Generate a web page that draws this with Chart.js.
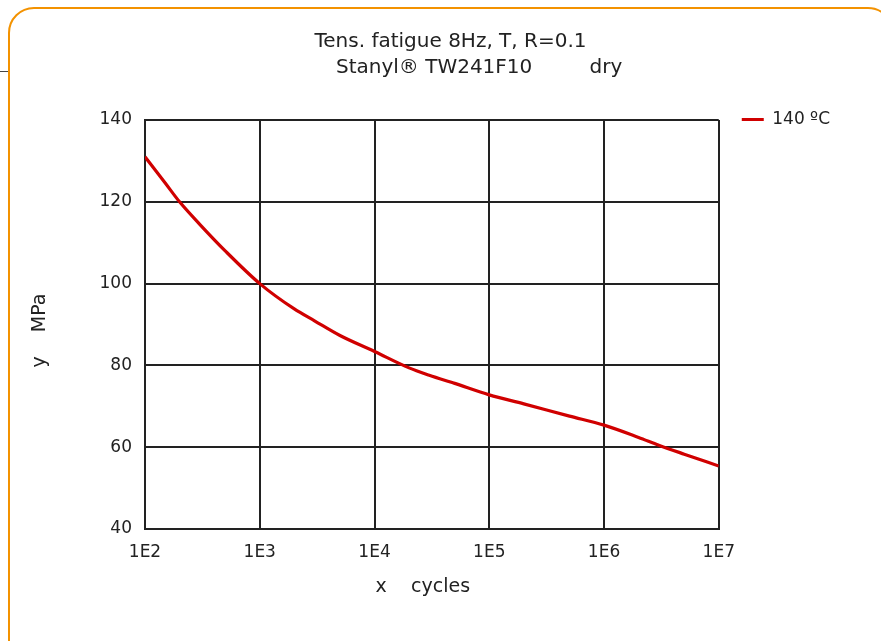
<!DOCTYPE html>
<html>
<head>
<meta charset="utf-8">
<title>Tens. fatigue 8Hz</title>
<script src="https://cdn.jsdelivr.net/npm/chart.js@4.4.1/dist/chart.umd.min.js"></script>
<style>
  html, body { margin: 0; padding: 0; background: #fff; overflow: hidden; }
  #wrap { position: relative; width: 881px; height: 641px; }
  #frame { position: absolute; left: 8px; top: 7px; width: 882px; height: 700px;
           border: 2px solid #f39200; border-radius: 26px; }
  #rule { position: absolute; left: 0; top: 71px; width: 9px; height: 1px; background: #444; }
  #fatigueChart { position: absolute; left: 0; top: 0; }
</style>
</head>
<body>
<div id="wrap">
  <div id="rule"></div>
  <div id="frame"></div>
  <canvas id="fatigueChart" width="881" height="641"></canvas>
</div>
<script>
// values
var cycles = [1e2, 1.5e2, 2e2, 3e2, 5e2, 1e3, 2e3, 3e3, 5e3, 1e4, 2e4, 3e4, 5e4,
              1e5, 2e5, 5e5, 1e6, 2e6, 3e6, 5e6, 1e7];
var stress140 = [131, 124.6, 120, 114.5, 108, 100, 93.8, 90.9, 87.3, 83.4, 79.4, 77.6, 75.6,
                 72.8, 70.6, 67.6, 65.4, 62.4, 60.5, 58.3, 55.4];
var seriesLabel = '140 \u00baC';
var xTickValues = [1e2, 1e3, 1e4, 1e5, 1e6, 1e7];
var titleLines = ['Tens. fatigue 8Hz, T, R=0.1',
                  '         Stanyl\u00ae TW241F10         dry'];

var fontFam = "'DejaVu Sans', Verdana, sans-serif";
var ink = '#222';

var points = [];
for (var i = 0; i < cycles.length; i++) {
  points.push({ x: cycles[i], y: stress140[i] });
}

var ctx = document.getElementById('fatigueChart').getContext('2d');

var data = {
  datasets: [
    {
      label: seriesLabel,
      data: points,
      borderColor: '#d00000',
      backgroundColor: '#d00000',
      borderWidth: 3.2,
      pointRadius: 0,
      fill: false,
      cubicInterpolationMode: 'monotone'
    }
  ]
};

var options = {
  responsive: false,
  devicePixelRatio: 1,
  animation: false,
  layout: {
    padding: { left: 61, right: 41, top: 10, bottom: 32 }
  },
  plugins: {
    title: {
      display: true,
      text: titleLines,
      color: ink,
      font: { family: fontFam, size: 20, weight: 'normal', lineHeight: 26 / 20 },
      padding: { top: 19, bottom: 39 }
    },
    legend: {
      position: 'right',
      align: 'start',
      title: { display: true, text: '', font: { size: 10, lineHeight: 1 }, padding: { top: 68, bottom: 0 } },
      labels: {
        usePointStyle: true,
        pointStyle: 'line',
        pointStyleWidth: 22,
        boxWidth: 22,
        padding: 23,
        color: ink,
        font: { family: fontFam, size: 17 }
      }
    },
    tooltip: { enabled: false }
  },
  scales: {
    x: {
      type: 'logarithmic',
      min: 1e2,
      max: 1e7,
      afterBuildTicks: function(scale) {
        scale.ticks = xTickValues.map(function(v) { return { value: v }; });
      },
      afterFit: function(scale) { scale.height = 80; },
      grid: { color: ink, lineWidth: 2, drawTicks: false },
      border: { color: ink, width: 2 },
      ticks: {
        color: ink,
        padding: 13,
        maxRotation: 0,
        autoSkip: false,
        font: { family: fontFam, size: 17 },
        callback: function(v) { return '1E' + Math.round(Math.log10(v)); }
      },
      title: {
        display: true,
        text: 'x    cycles   ',
        color: ink,
        font: { family: fontFam, size: 19 },
        padding: { top: 0, bottom: 10.6 }
      }
    },
    y: {
      min: 40,
      max: 140,
      afterFit: function(scale) { scale.width = 84; },
      grid: { color: ink, lineWidth: 2, drawTicks: false },
      border: { color: ink, width: 2 },
      ticks: {
        stepSize: 20,
        color: ink,
        padding: 13,
        font: { family: fontFam, size: 17 }
      },
      title: {
        display: true,
        text: 'y    MPa  ',
        color: ink,
        font: { family: fontFam, size: 19 },
        padding: { top: -32.4, bottom: 0 }
      }
    }
  }
};

var fatigueChart = new Chart(ctx, {
  type: 'line',
  data: data,
  options: options
});
</script>
</body>
</html>
